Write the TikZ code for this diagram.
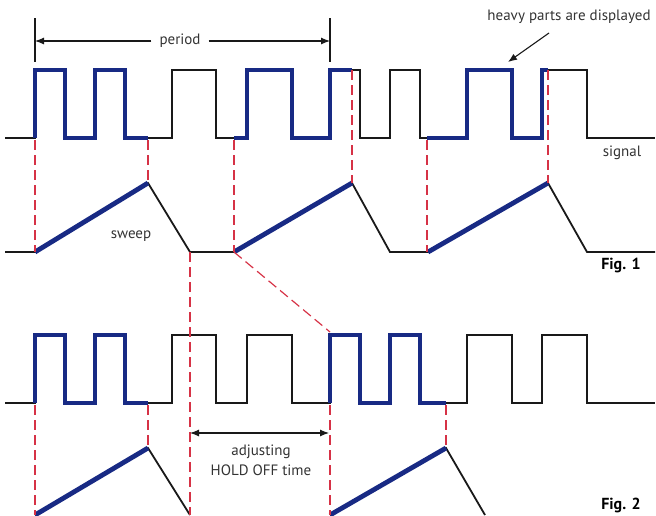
\documentclass[tikz,border=0pt]{standalone}
\usepackage{fontspec}
\setmainfont{PT Sans}
\usepackage{tikz}
\usetikzlibrary{arrows.meta}
\definecolor{heavyblue}{RGB}{24,42,132}
\definecolor{trigred}{RGB}{214,50,70}
\tikzset{
>={Latex[length=9pt,width=7pt]}, % filled arrow heads
trace/.style={black!90, line width=1.8pt}, % thin signal line
heavy/.style={heavyblue, line width=4.8pt}, % displayed part
trig/.style={trigred, line width=1.2pt, dash pattern=on 10pt off 5pt},
dim/.style={black!90, line width=1.1pt},
lbl/.style={font=\fontsize{15}{20}\selectfont, text=black!80, inner sep=1pt},
figlbl/.style={font=\fontsize{16}{18}\selectfont\bfseries, inner sep=1pt},
}

\begin{document}
\begin{tikzpicture}[x=1pt,y=-1pt]
  \useasboundingbox (0,0) rectangle (656,515);

  % the two pulse trains (Fig. 1 at 0, Fig. 2 shifted down)
  \foreach \dy in {0,265}{
    \draw[trace,yshift=-\dy pt] (5,138) -| (35,70) -| (65,138) -| (95,70) -| (125,138)
      -| (172,70) -| (216,138) -| (247,70) -| (292,138) -| (330,70) -| (360,138)
      -| (390,70) -| (420,138) -| (467,70) -| (512,138) -| (542,70) -| (587,138) -- (655,138);
    \draw[heavy,yshift=-\dy pt] (35,138) -- (35,70) -| (65,138) -| (95,70) -| (125,138) -- (148,138);
  }

  % Fig. 1
  \draw[heavy] (234,138) -| (247,70) -| (292,138) -| (330,70) -- (352,70);
  \draw[heavy] (427,138) -| (467,70) -| (512,138) -| (542,70) -- (548,70);
  \draw[trace] (5,252) -- (35,252) -- (148,183) -- (190,252) -- (234,252) -- (352,183)
    -- (390,252) -- (428,252) -- (548,183) -- (587,252) -- (655,252);
  \draw[heavy] (35,252) -- (148,183);
  \draw[heavy] (234,252) -- (352,183);
  \draw[heavy] (428,252) -- (548,183);

  % Fig. 2
  \draw[heavy] (330,403) -- (330,335) -| (360,403) -| (390,335) -| (420,403) -- (446,403);
  \draw[trace] (35,515) -- (148,448) -- (190,515);
  \draw[trace] (330,515) -- (446,448) -- (485,515);
  \draw[heavy] (35,515) -- (148,448);
  \draw[heavy] (330,515) -- (446,448);

  % trigger marks
  \foreach \x/\ya/\yb in {35/140/252, 148/140/183, 234/140/252, 352/70/183,
      427/140/252, 548/70/183, 190/252/515, 35/405/515, 148/405/448,
      330/405/515, 446/405/448}
    \draw[trig] (\x,\ya) -- (\x,\yb);
  \draw[trig] (234,252) -- (330,332);

  % period
  \draw[dim, line width=1.5pt] (35,18) -- (35,62);
  \draw[dim, line width=1.5pt] (330,18) -- (330,62);
  \coordinate (perL) at (35,41);
  \coordinate (perR) at (330,41);
  \node[lbl, inner xsep=8pt] (period) at (180,41) {period};
  \draw[dim,->] (period) -- (perL);
  \draw[dim,->] (period) -- (perR);

  % heavy parts
  \node[lbl] (heavytxt) at (569,17) {heavy parts are displayed};
  \coordinate (hvtail) at (549,33);
  \coordinate (hvtip) at (508,62);
  \draw[dim,->] (hvtail) -- (hvtip);

  % hold off
  \coordinate (hoL) at (190,433);
  \coordinate (hoR) at (329,433);
  \draw[dim,<->] (hoL) -- (hoR);
  \node[lbl, align=center] (holdoff) at (261,460) {adjusting\\HOLD OFF time};

  \node[lbl] (signal) at (622,153) {signal};
  \node[lbl] (sweep) at (131,236) {sweep};
  \node[figlbl] (fig1) at (621,265) {Fig. 1};
  \node[figlbl] (fig2) at (621,505) {Fig. 2};
\end{tikzpicture}
\end{document}
